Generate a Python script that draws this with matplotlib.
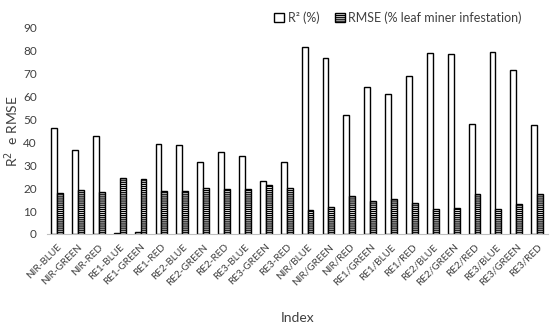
import matplotlib
matplotlib.use("Agg")
import matplotlib.pyplot as plt
import numpy as np

plt.rcParams['font.family'] = ['Lato', 'DejaVu Sans']
plt.rcParams['hatch.linewidth'] = 0.9

categories = ["NIR-BLUE", "NIR-GREEN", "NIR-RED", "RE1-BLUE", "RE1-GREEN", "RE1-RED",
              "RE2-BLUE", "RE2-GREEN", "RE2-RED", "RE3-BLUE", "RE3-GREEN", "RE3-RED",
              "NIR/BLUE", "NIR/GREEN", "NIR/RED", "RE1/GREEN", "RE1/BLUE", "RE1/RED",
              "RE2/BLUE", "RE2/GREEN", "RE2/RED", "RE3/BLUE", "RE3/GREEN", "RE3/RED"]
r2 = [46.0, 36.6, 42.7, 0.3, 1.0, 39.3, 38.7, 31.5, 35.7, 34.0, 23.1, 31.5,
      81.5, 76.8, 51.8, 64.0, 60.8, 68.8, 78.9, 78.4, 47.9, 79.1, 71.5, 47.6]
rmse = [17.7, 19.2, 18.4, 24.2, 23.9, 18.9, 18.9, 19.9, 19.5, 19.6, 21.3, 19.9,
        10.4, 11.6, 16.5, 14.5, 15.1, 13.6, 11.0, 11.3, 17.5, 11.0, 13.1, 17.5]
yticks = [0, 10, 20, 30, 40, 50, 60, 70, 80, 90]

fig = plt.figure(figsize=(5.5, 3.36), dpi=100)
ax = fig.add_axes([0.0847, 0.3036, 0.911, 0.6154])

x = np.arange(len(categories))
w = 0.28
ax.bar(x - w / 2, r2, w, color='white', edgecolor='black', linewidth=1.0, label='R² (%)')
ax.bar(x + w / 2, rmse, w, color='white', edgecolor='black', linewidth=1.0, hatch='--------',
       label='RMSE (% leaf miner infestation)')

ax.set_xlim(-0.5, len(categories) - 0.5)
ax.set_ylim(0, 90)
ax.set_yticks(yticks)
ax.tick_params(axis='y', length=0, labelsize=8.5, colors='#404040', pad=7)
ax.tick_params(axis='x', length=0, labelsize=7.2, colors='#404040', pad=6)
ax.set_xticks(x)
ax.set_xticklabels(categories, rotation=45, ha='right', rotation_mode='anchor')
for s in ['top', 'right', 'left']:
    ax.spines[s].set_visible(False)
ax.spines['bottom'].set_color('#bfbfbf')
ax.spines['bottom'].set_linewidth(0.8)

ax.set_ylabel('R$^2$  e RMSE', fontsize=10, color='#404040')
ax.yaxis.set_label_coords(-0.052, 0.5)
ax.set_xlabel('Index', fontsize=10, color='#404040', labelpad=18)

leg = fig.legend(loc='upper left', bbox_to_anchor=(0.478, 1.0), ncol=2, frameon=False,
                 fontsize=9, handlelength=0.8, handleheight=0.8, handletextpad=0.3,
                 columnspacing=1.2, labelcolor='#404040')

fig.savefig('out.png', dpi=100)
